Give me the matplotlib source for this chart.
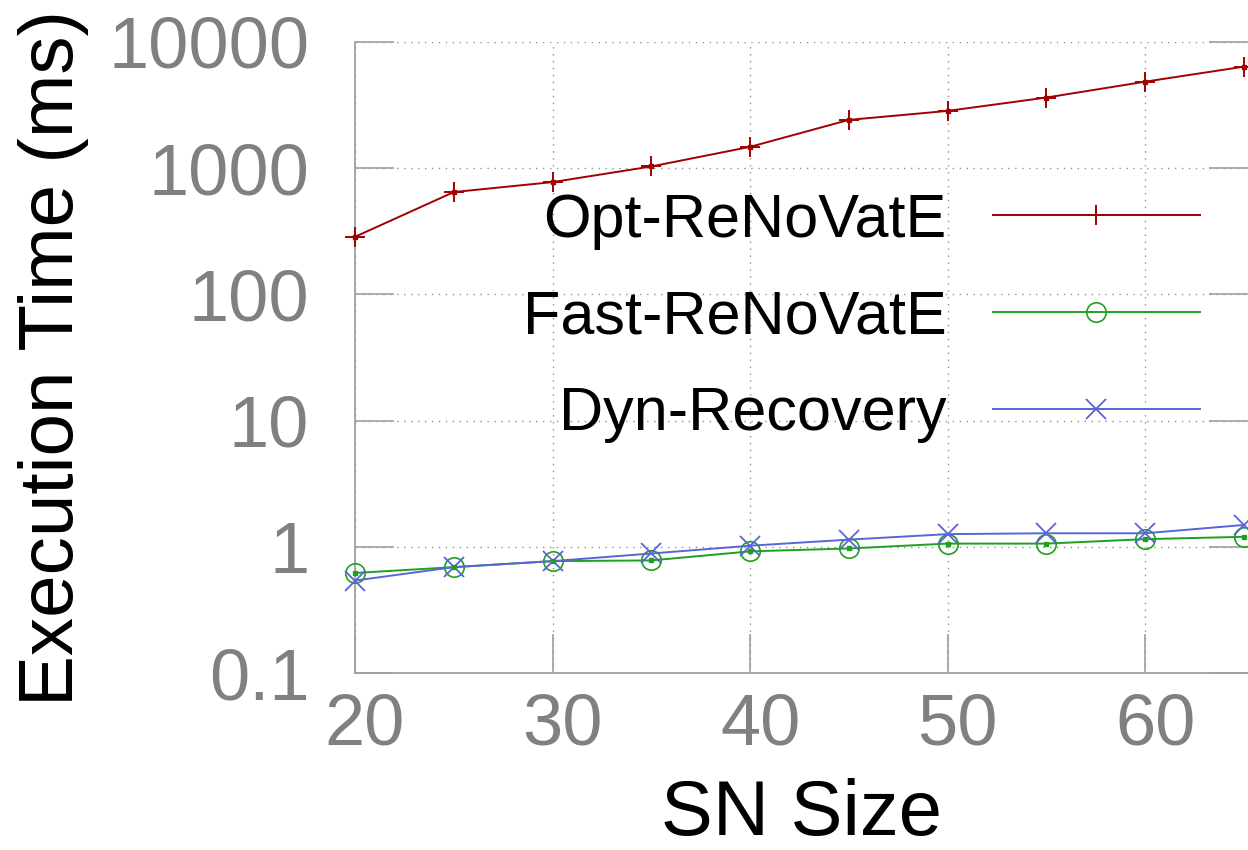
import numpy as np
import matplotlib
matplotlib.use("Agg")
import matplotlib.pyplot as plt
from matplotlib.ticker import LogLocator, FixedLocator, NullFormatter
import matplotlib.transforms as mtransforms

plt.rcParams['font.family'] = ['Liberation Sans', 'DejaVu Sans']

# datos
sn_size = [20, 25, 30, 35, 40, 45, 50, 55, 60, 65]
opt_renovate = [286, 647, 776, 1032, 1477, 2415, 2845, 3630, 4850, 6380]
fast_renovate = [0.62, 0.69, 0.77, 0.78, 0.92, 0.97, 1.06, 1.06, 1.15, 1.20]
dyn_recovery = [0.54, 0.69, 0.77, 0.885, 1.02, 1.14, 1.26, 1.28, 1.28, 1.49]

x_ticks = [20, 30, 40, 50, 60]
y_ticks = [0.1, 1, 10, 100, 1000, 10000]
y_ticklabels = ["0.1", "1", "10", "100", "1000", "10000"]

c_opt = "#a00000"
c_fast = "#20a020"
c_dyn = "#5a64d8"
gris = "#a0a0a0"

fig = plt.figure(figsize=(12.48, 8.5), dpi=100)
ax = fig.add_axes([355/1248, 1-673/850, (1248-355)/1248, (673-42)/850])

ax.plot(sn_size, opt_renovate, color=c_opt, lw=1.4, marker="+", ms=15, mew=1.4,
        label="Opt-ReNoVatE", clip_on=False, zorder=5)
ax.plot(sn_size, fast_renovate, color=c_fast, lw=1.4, marker="o", ms=14, mfc="none",
        mew=1.2, label="Fast-ReNoVatE", clip_on=False, zorder=5)
ax.plot(sn_size, dyn_recovery, color=c_dyn, lw=1.4, marker="x", ms=14, mew=1.3,
        label="Dyn-Recovery", clip_on=False, zorder=6)
# puntitos en el centro de cada marcador
ax.plot(sn_size, opt_renovate, ls="none", marker="s", ms=2.5, color=c_opt, clip_on=False, zorder=7)
ax.plot(sn_size, fast_renovate, ls="none", marker="s", ms=2.5, color=c_fast, clip_on=False, zorder=7)

ax.set_yscale("log")
ax.set_xlim(20, 65.2)
ax.set_ylim(0.1, 10000)

ax.xaxis.set_major_locator(FixedLocator(x_ticks))
ax.yaxis.set_major_locator(FixedLocator(y_ticks))
ax.set_yticklabels(y_ticklabels)
ax.yaxis.set_minor_locator(LogLocator(base=10, subs=[2, 5, 8]))
ax.yaxis.set_minor_formatter(NullFormatter())

ax.tick_params(axis="both", which="major", direction="in", length=28, width=1.2,
               color=gris, labelcolor="#808080", labelsize=52)
ax.tick_params(axis="y", which="both", left=True, right=True)
ax.tick_params(axis="y", which="minor", direction="in", length=14, width=1.2, color=gris)
ax.tick_params(axis="x", which="major", pad=14)
ax.tick_params(axis="y", which="major", pad=33)

# las etiquetas del eje x estan un poco corridas a la derecha
off = mtransforms.ScaledTranslation(10/100, 0, fig.dpi_scale_trans)
for lab in ax.get_xticklabels():
    lab.set_transform(lab.get_transform() + off)

ax.grid(True, which="major", ls=(0, (1, 4)), color="#909090", lw=1.0)

for s in ["top", "right"]:
    ax.spines[s].set_visible(False)
for s in ["left", "bottom"]:
    ax.spines[s].set_color(gris)
    ax.spines[s].set_linewidth(1.3)

ax.set_xlabel("SN Size", fontsize=56, labelpad=13)
ax.set_ylabel("Execution Time (ms)", fontsize=55, labelpad=14)

leg = ax.legend(loc="upper right", bbox_to_anchor=(0.974, 0.80), frameon=False,
                markerfirst=False, fontsize=44, handlelength=3.4, handletextpad=0.75,
                labelspacing=0.65, borderaxespad=0)

fig.savefig("out.png", dpi=100)
